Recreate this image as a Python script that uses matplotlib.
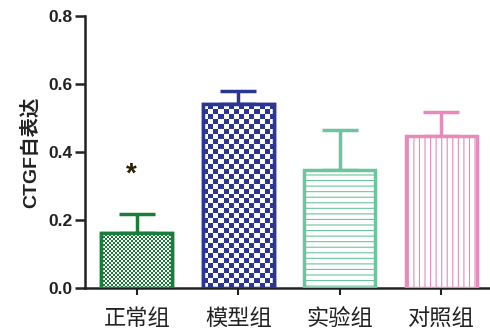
import numpy as np
import matplotlib
matplotlib.use('Agg')
import matplotlib.pyplot as plt
from matplotlib.colors import ListedColormap

# CTGF expression per group (mean and error bar)
groups = ['正常组', '模型组', '实验组', '对照组']
means = [0.162, 0.541, 0.348, 0.447]
errs = [0.056, 0.038, 0.118, 0.072]
colors = ['#1b7d3a', '#2b3594', '#6cc59e', '#e68bbb']
fills = ['checker2', 'checker5', '---', '|||']
sig = ['*', '', '', '']

plt.rcParams['font.family'] = ['Liberation Sans', 'Noto Sans CJK SC', 'DejaVu Sans']
plt.rcParams['hatch.linewidth'] = 0.8

W, H, dpi = 490, 335, 100
fig = plt.figure(figsize=(W/dpi, H/dpi), dpi=dpi)
ax_l, ax_b, ax_r, ax_t = 85, 47, 492, 319
ax = fig.add_axes([ax_l/W, ax_b/H, (ax_r-ax_l)/W, (ax_t-ax_b)/H])

x = np.arange(len(groups))
width = 0.7
ax.set_xlim(-0.51, 3.5)
ax.set_ylim(0, 0.8)

px_x = (ax_r - ax_l) / (3.5 + 0.51)
px_y = (ax_t - ax_b) / 0.8

for i in range(len(groups)):
    c = colors[i]
    ax.errorbar(x[i], means[i], yerr=[[0], [errs[i]]], fmt='none', ecolor=c,
                elinewidth=2.5, capsize=13, capthick=2.5, zorder=2)
    if fills[i].startswith('checker'):
        bar = ax.bar(x[i], means[i], width, color='white', edgecolor=c,
                     linewidth=2.5, zorder=3)[0]
        cell = int(fills[i][7:])
        ncol = max(1, int(round(width * px_x / cell)))
        nrow = max(1, int(round(means[i] * px_y / cell)))
        board = np.indices((nrow, ncol)).sum(axis=0) % 2
        im = ax.imshow(board, cmap=ListedColormap(['white', c]), interpolation='nearest',
                       extent=[x[i]-width/2, x[i]+width/2, 0, means[i]],
                       aspect='auto', zorder=3.5)
        im.set_clip_path(bar)
        ax.bar(x[i], means[i], width, color='none', edgecolor=c,
               linewidth=2.5, zorder=4)
    else:
        ax.bar(x[i], means[i], width, color='white', edgecolor=c, hatch=fills[i],
               linewidth=2.5, zorder=3)
    if sig[i]:
        ax.text(x[i] - 0.05, means[i] + errs[i] + 0.115, sig[i], ha='center', va='center',
                fontsize=20, color='#2a2000', fontweight='bold')

ax.set_xticks(x)
ax.set_xticklabels(groups, fontsize=16, family=['Noto Sans CJK SC'], color='#222222')
ax.set_yticks([0.0, 0.2, 0.4, 0.6, 0.8])
ax.set_yticklabels(['0.0', '0.2', '0.4', '0.6', '0.8'], fontsize=12.5, fontweight='bold',
                   color='#222222')
ax.set_ylabel('CTGF白表达', fontsize=14, fontweight='bold', color='#222222', labelpad=6)

for s in ['top', 'right']:
    ax.spines[s].set_visible(False)
for s in ['left', 'bottom']:
    ax.spines[s].set_linewidth(1.8)
    ax.spines[s].set_color('#222222')
ax.tick_params(axis='y', length=7, width=1.8, color='#222222', pad=2)
ax.tick_params(axis='x', length=5, width=1.5, color='#222222', pad=9)

fig.savefig('out.png', dpi=dpi)
